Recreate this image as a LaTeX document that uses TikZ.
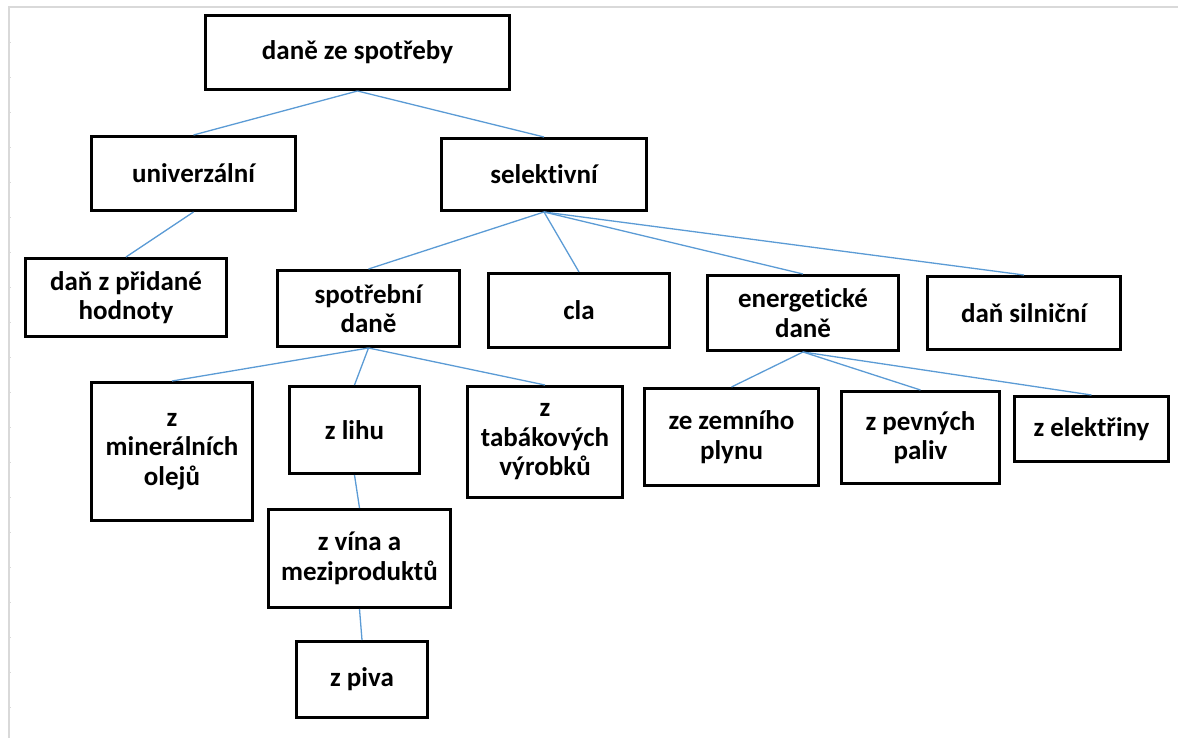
\documentclass[tikz,border=0pt]{standalone}
\usepackage{fontspec}
\setmainfont{Carlito}[Ligatures=NoCommon]
\usepackage{tikz}
\usetikzlibrary{positioning}
\definecolor{linkblue}{RGB}{91,155,213}
\definecolor{framegray}{RGB}{217,217,217}

\begin{document}
\begin{tikzpicture}[
    x=1pt, y=-1pt,
    box/.style={rectangle, draw, line width=3pt, inner sep=0pt, align=center, font=\fontsize{27}{29.5}\selectfont\bfseries},
    wh/.style 2 args={minimum width=#1pt, minimum height=#2pt},
    link/.style={draw=linkblue, line width=1.3pt}
]
\useasboundingbox (0,0) rectangle (1178,738);
\draw[framegray, line width=1.6pt] (8,7) -- (1178,7);
\draw[framegray, line width=1.6pt] (9,7) -- (9,738);
\foreach \ty in {42,77,...,740} {
    \draw[framegray, line width=0.6pt] (9,\ty) -- (11,\ty);
}

\node[box, wh={304}{74}] (spotreby) at (357.5,52.5) {daně ze spotřeby};
\node[box, wh={204}{74}] (univ) at (193.5,173.5) {univerzální};
\node[box, wh={205}{72}] (selekt) at (544,174.5) {selektivní};

\node[box, wh={201}{78}] (dph) at (126,297.5) {daň z přidané\\hodnoty};
\node[box, wh={182}{76}] (spd) at (368.5,308.5) {spotřební\\daně};
\node[box, wh={181}{74}] (cla) at (579,310.5) {cla};
\node[box, wh={191}{75}] (ene) at (803,313) {energetické\\daně};
\node[box, wh={193}{73}] (silnicni) at (1024,313) {daň silniční};

\node[box, wh={161}{138}] (mineral) at (172,451.5) {z\\minerálních\\olejů};
\node[box, wh={130}{87}] (lih) at (354.5,430) {z lihu};
\node[box, wh={155}{111}] (tabak) at (545,442) {z\\tabákových\\výrobků};
\node[box, wh={182}{98}] (vino) at (359.5,558.5) {z vína a\\meziproduktů};
\node[box, wh={131}{76}] (pivo) at (362,679.5) {z piva};

\node[box, wh={174}{97}] (plyn) at (731.5,437) {ze zemního\\plynu};
\node[box, wh={158}{92}] (paliva) at (920.5,437.5) {z pevných\\paliv};
\node[box, wh={154}{65}] (elektr) at (1091.5,429) {z elektřiny};

\draw[link] (spotreby.south) -- (univ.north);
\draw[link] (spotreby.south) -- (selekt.north);
\draw[link] (univ.south) -- (dph.north);
\draw[link] (selekt.south) -- (spd.north);
\draw[link] (selekt.south) -- (cla.north);
\draw[link] (selekt.south) -- (ene.north);
\draw[link] (selekt.south) -- (silnicni.north);
\draw[link] (spd.south) -- (mineral.north);
\draw[link] (spd.south) -- (lih.north);
\draw[link] (spd.south) -- (tabak.north);
\draw[link] (lih.south) -- (vino.north);
\draw[link] (vino.south) -- (pivo.north);
\draw[link] (ene.south) -- (plyn.north);
\draw[link] (ene.south) -- (paliva.north);
\draw[link] (ene.south) -- (elektr.north);
\end{tikzpicture}
\end{document}
